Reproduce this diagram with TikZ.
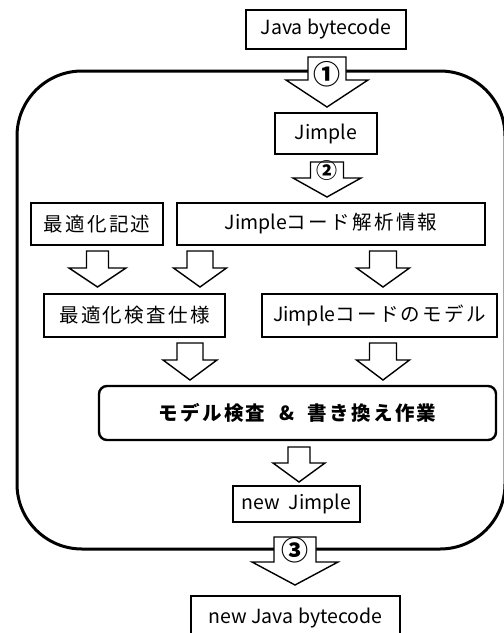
\documentclass[tikz,border=0pt]{standalone}
\usepackage{fontspec}
\setmainfont{Noto Sans CJK JP}
\newfontfamily\jpfont[LetterSpace=12]{Noto Sans CJK JP}
\newfontfamily\lat{Noto Sans CJK JP}
\newcommand{\latin}[1]{{\lat\fontsize{19.5}{22}\selectfont #1}}
\newcommand{\barrow}[6]{%
  \draw[arrowline] (#1-#5,#2) -- (#1+#5,#2) -- (#1+#5,#3) -- (#1+#6,#3) -- (#1,#4) -- (#1-#6,#3) -- (#1-#5,#3) -- cycle;}
\begin{document}
\begin{tikzpicture}[x=1pt,y=-1pt,
  box/.style={draw, line width=1.4pt, fill=white, inner sep=0pt, font=\jpfont\fontsize{19.5}{22}\selectfont},
  arrowline/.style={draw, line width=1.4pt, fill=white, line join=miter},
  outer/.style={line width=3pt, rounded corners=65pt},
  bigbox/.style={draw, line width=2.4pt, rounded corners=8pt, inner sep=0pt, font=\jpfont\fontsize{19.5}{22}\selectfont\bfseries},
  num/.style={inner sep=0pt}]
\useasboundingbox (0,0) rectangle (504,633);
% outer frame
\draw[outer] (17,71) rectangle (505,549);
% nodes
\node[box, minimum width=160pt, minimum height=39pt] (java) at (326,29.5) {\latin{Java bytecode}};
\node[box, minimum width=102pt, minimum height=41pt] (jimple) at (326,133.5) {\latin{Jimple}};
\node[box, minimum width=132pt, minimum height=42pt] (kijutsu) at (97,224) {最適化記述};
\node[box, minimum width=308pt, minimum height=42pt] (kaiseki) at (331,224) {\latin{Jimple}コード解析情報};
\node[box, minimum width=181pt, minimum height=43pt] (kensa) at (134.5,315.5) {最適化検査仕様};
\node[box, minimum width=235pt, minimum height=43pt] (model) at (379.5,315.5) {\latin{Jimple}コードのモデル};
\node[bigbox, minimum width=397pt, minimum height=54pt] (work) at (297.5,413) {モデル検査\ \ \&\ \ 書き換え作業};
\node[box, minimum width=127pt, minimum height=36pt] (newjimple) at (296.5,504) {\latin{new\ \ Jimple}};
\node[box, minimum width=209pt, minimum height=44pt] (newjava) at (295.5,618) {\latin{new Java bytecode}};
% block arrows
\barrow{327}{57}{80}{107}{19}{41}
\node[num, font=\lat\bfseries\fontsize{27}{27}\selectfont] (n1) at (327,74) {①};
\barrow{327}{162}{178}{197}{16.5}{34}
\node[num, font=\lat\bfseries\fontsize{21}{21}\selectfont] (n2) at (327,171) {②};
\barrow{97.5}{251}{268}{287}{11}{28.5}
\barrow{200}{251}{268}{287}{13}{26.5}
\barrow{383}{251}{268}{287}{13.5}{26.5}
\barrow{190}{343}{360}{380}{13}{27}
\barrow{383}{343}{360}{380}{13.5}{26.5}
\barrow{299}{447}{463}{482}{11}{26}
\barrow{295}{537}{562}{585}{21}{43}
\node[num, font=\lat\bfseries\fontsize{27}{27}\selectfont] (n3) at (295,550) {③};
\end{tikzpicture}
\end{document}
